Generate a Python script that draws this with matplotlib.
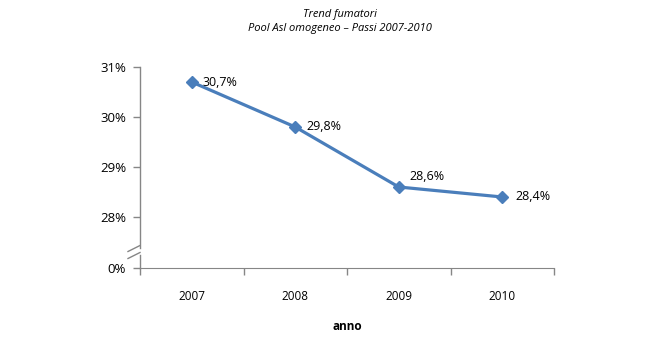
import matplotlib
matplotlib.use("Agg")
import matplotlib.pyplot as plt

anni = ["2007", "2008", "2009", "2010"]
fumatori = [30.7, 29.8, 28.6, 28.4]
etichette = ["30,7%", "29,8%", "28,6%", "28,4%"]
y_ticks = [28, 29, 30, 31]
y_labels = ["28%", "29%", "30%", "31%"]

plt.rcParams["font.family"] = ["Open Sans", "DejaVu Sans"]

W, H = 660, 345
fig = plt.figure(figsize=(6.6, 3.45), dpi=100)
ax = fig.add_axes([140 / W, 1 - 268 / H, 414 / W, 201 / H])

grey = "#868686"
blue = "#4a7ebb"

# asse y "spezzato": lo 0% sta sotto la rottura
y_zero = 28 - 51 / 50
ax.set_ylim(y_zero, 31)
ax.set_xlim(-0.5, 3.5)

x = list(range(len(anni)))
ax.plot(x, fumatori, color=blue, lw=2.3, marker="D", ms=6.5,
        markerfacecolor=blue, markeredgecolor=blue, clip_on=False, zorder=3)

offsets = [(11, 0), (11, 0), (11, 11), (13, 0)]
for xi, yi, lab, (dx, dy) in zip(x, fumatori, etichette, offsets):
    ax.annotate(lab, (xi, yi), xytext=(dx, dy), textcoords="offset pixels",
                ha="left", va="center", fontsize=9, color="#000000")

ax.set_yticks(y_ticks + [y_zero])
ax.set_yticklabels(y_labels + ["0%"])
ax.set_xticks(x)
ax.set_xticklabels(anni)
ax.set_xticks([-0.5, 0.5, 1.5, 2.5, 3.5], minor=True)
ax.tick_params(axis="x", which="major", length=0, pad=16, labelsize=8.5)
ax.tick_params(axis="x", which="minor", length=5, color=grey, width=1)
ax.tick_params(axis="y", length=5, color=grey, width=1, labelsize=9.5, pad=5)

for s in ["top", "right"]:
    ax.spines[s].set_visible(False)
ax.spines["bottom"].set_color(grey)
ax.spines["left"].set_visible(False)

# spine sinistra con interruzione
tr = ax.get_yaxis_transform()
gap_hi = 28 - (248 - 217) / 50
gap_lo = 28 - (255 - 217) / 50
ax.plot([0, 0], [gap_hi, 31], color=grey, lw=1, transform=tr, clip_on=False)
ax.plot([0, 0], [y_zero, gap_lo], color=grey, lw=1, transform=tr, clip_on=False)
for yy in [gap_hi, gap_lo]:
    ax.plot([-12 / 414, 0], [yy - 0.07, yy + 0.05], color=grey, lw=1,
            transform=tr, clip_on=False)

ax.set_xlabel("anno", fontsize=8.5, fontweight="bold", labelpad=12)

fig.text(0.515, 1 - 14 / H, "Trend fumatori", ha="center", va="center",
         fontsize=8, style="italic")
fig.text(0.515, 1 - 28 / H, "Pool Asl omogeneo \u2013 Passi 2007-2010",
         ha="center", va="center", fontsize=8, style="italic")

fig.savefig("out.png", dpi=100)
